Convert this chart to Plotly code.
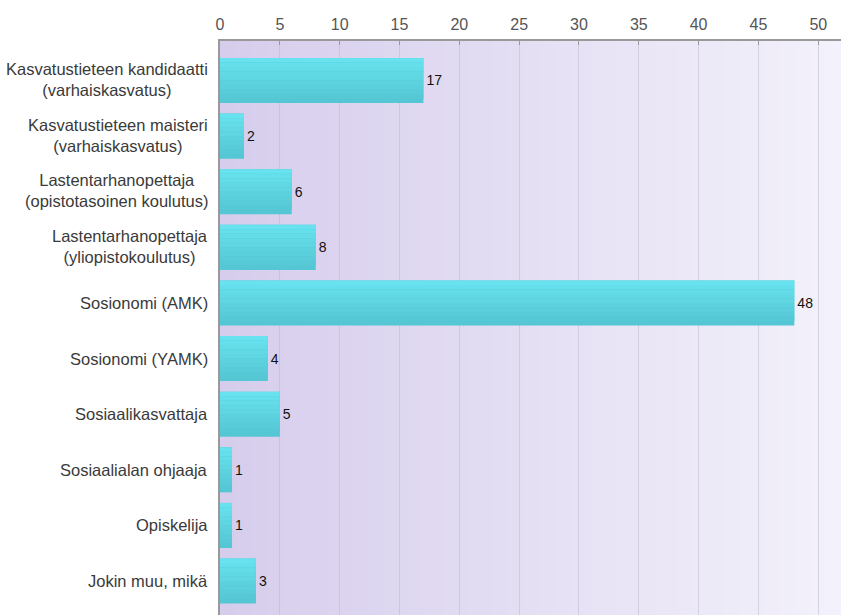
import plotly.graph_objects as go

categories = [
    "Kasvatustieteen kandidaatti<br>(varhaiskasvatus)",
    "Kasvatustieteen maisteri<br>(varhaiskasvatus)",
    "Lastentarhanopettaja<br>(opistotasoinen koulutus)",
    "Lastentarhanopettaja<br>(yliopistokoulutus)",
    "Sosionomi (AMK)",
    "Sosionomi (YAMK)",
    "Sosiaalikasvattaja",
    "Sosiaalialan ohjaaja",
    "Opiskelija",
    "Jokin muu, mikä",
]
values = [17, 2, 6, 8, 48, 4, 5, 1, 1, 3]
tick_values = [0, 5, 10, 15, 20, 25, 30, 35, 40, 45, 50]

positions = list(range(len(categories)))
BAR_W = 0.81

fig = go.Figure()

# base bar with value labels
fig.add_trace(go.Bar(
    x=values, y=positions, orientation="h", width=BAR_W,
    marker=dict(color="#55c6d3", line=dict(width=0)),
    text=[str(v) for v in values], textposition="outside",
    textfont=dict(family="Liberation Sans, Arial", size=14, color="#111"),
    cliponaxis=False, hoverinfo="skip", showlegend=False,
))

# gradient bands over the bar (lighter on top)
n_bands = 10
top = (103, 226, 238)
bot = (85, 198, 211)
for k in range(n_bands - 1):
    t = k / (n_bands - 1)
    c = tuple(round(top[i] + (bot[i] - top[i]) * t) for i in range(3))
    fig.add_trace(go.Bar(
        x=values, y=positions, orientation="h",
        width=BAR_W / n_bands, offset=-BAR_W / 2 + k * BAR_W / n_bands,
        marker=dict(color="rgb(%d,%d,%d)" % c, line=dict(width=0)),
        hoverinfo="skip", showlegend=False,
    ))

# background gradient
shapes = []
n_steps = 80
left = (214, 205, 236)
right = (243, 241, 251)
for k in range(n_steps):
    t = k / (n_steps - 1)
    c = tuple(round(left[i] + (right[i] - left[i]) * t) for i in range(3))
    shapes.append(dict(
        type="rect", xref="paper", yref="paper",
        x0=k / n_steps, x1=(k + 1) / n_steps + 0.002, y0=0, y1=1,
        fillcolor="rgb(%d,%d,%d)" % c, line=dict(width=0), layer="below",
    ))

annotations = []
for p, cat in zip(positions, categories):
    annotations.append(dict(
        x=0, xref="paper", xshift=-10, y=p, yref="y",
        yshift=1 if "<br>" in cat else 0,
        text=cat, showarrow=False, xanchor="right", yanchor="middle",
        align="center",
        font=dict(family="Liberation Sans, Arial", size=16.5, color="#3a3a3a"),
    ))

fig.update_layout(
    width=841, height=615,
    margin=dict(l=220, r=0, t=41, b=0),
    paper_bgcolor="white", plot_bgcolor="rgba(0,0,0,0)",
    barmode="overlay", bargap=0.19,
    shapes=shapes, annotations=annotations,
    xaxis=dict(
        side="top", range=[0, 51.9], tickvals=tick_values,
        ticks="inside", ticklen=4, tickcolor="#999",
        showline=True, linecolor="#999", linewidth=2,
        showgrid=True, gridcolor="rgba(185,183,205,0.5)", gridwidth=1,
        zeroline=False,
        tickfont=dict(family="Liberation Sans, Arial", size=16, color="#555"),
        ticklabelstandoff=3,
    ),
    yaxis=dict(
        range=[9.61, -0.71], showticklabels=False, ticks="",
        showline=True, linecolor="#999", linewidth=2,
        showgrid=False, zeroline=False,
    ),
)

fig.write_html(
    "out.html",
    config={"displayModeBar": False},
    post_script="document.body.style.margin='0';document.body.style.overflow='hidden';",
)
